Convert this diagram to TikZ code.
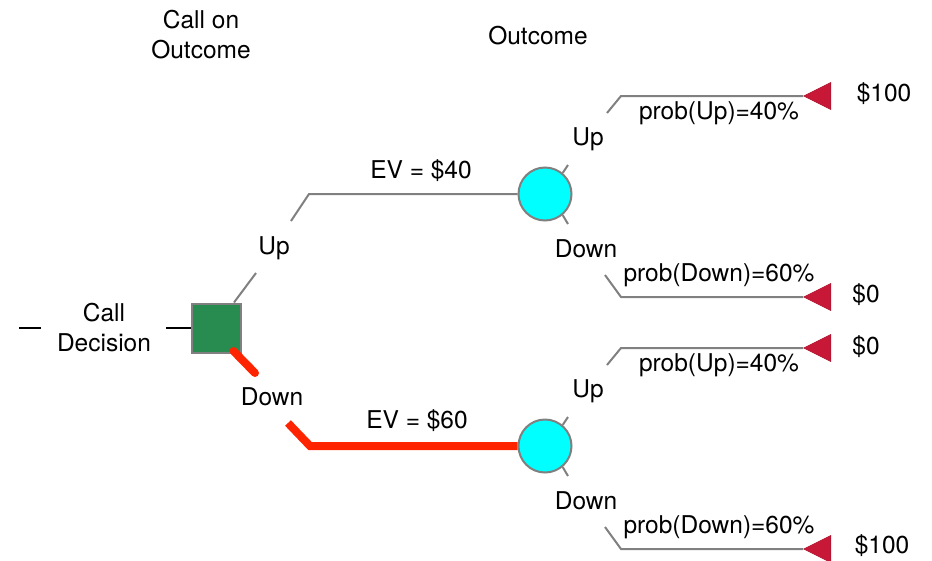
\documentclass[tikz,border=0pt]{standalone}
\usepackage{fontspec}
\setmainfont{TeX Gyre Heros}
\usetikzlibrary{shapes.geometric,calc,backgrounds}
\definecolor{branchgray}{RGB}{128,128,128}
\definecolor{bestred}{RGB}{255,36,0}
\definecolor{decgreen}{RGB}{40,140,80}
\definecolor{chancecyan}{RGB}{0,255,255}
\definecolor{payred}{RGB}{200,24,56}
\begin{document}
\begin{tikzpicture}[x=1pt,y=-1pt,
  txt/.style={font=\fontsize{24.5}{30}\selectfont, inner sep=0pt, align=center},
  branch/.style={draw=branchgray, line width=2pt},
  best/.style={draw=bestred, line width=8pt},
  lead/.style={draw=black, line width=2pt},
  decision/.style={rectangle, draw=branchgray, fill=decgreen, line width=2pt,
    minimum size=49pt, inner sep=0pt},
  chance/.style={circle, draw=branchgray, fill=chancecyan, line width=2pt,
    minimum size=53pt, inner sep=0pt},
  payoff/.style={isosceles triangle, isosceles triangle stretches,
    shape border rotate=180, fill=payred, draw=payred!85!black, line width=0.6pt,
    minimum width=27pt, minimum height=27pt, inner sep=0pt, anchor=apex},
]
\useasboundingbox (0,0) rectangle (932,560);

% column headers
\node[txt] (hdrDec) at (201,35) {Call on\\Outcome};
\node[txt] (hdrOut) at (538,36) {Outcome};

% root decision
\node[txt] (callLbl) at (104,328) {Call\\Decision};
\node[decision] (dec) at (216.5,328) {};

% chance nodes
\node[chance] (cU) at (545,194) {};
\node[chance] (cD) at (545,446) {};

% payoff terminals
\node[payoff] (tUU) at (803,96) {};
\node[payoff] (tUD) at (803,297) {};
\node[payoff] (tDU) at (803,348) {};
\node[payoff] (tDD) at (803,549) {};

% branch labels of the decision
\node[txt] (decUp)   at (274,248) {Up};
\node[txt] (decDown) at (272,397) {Down};
\node[txt] (ev40) at (421,171) {EV = \$40};
\node[txt] (ev60) at (417,421) {EV = \$60};

% branch labels of the chance nodes
\node[txt] (uUp)   at (588,139) {Up};
\node[txt] (uDown) at (586,249) {Down};
\node[txt] (uPu) at (719,113) {prob(Up)=40\%};
\node[txt] (uPd) at (719,275) {prob(Down)=60\%};
\node[txt] (dUp)   at (588,391) {Up};
\node[txt] (dDown) at (586,501) {Down};
\node[txt] (dPu) at (719,365) {prob(Up)=40\%};
\node[txt] (dPd) at (719,527) {prob(Down)=60\%};

% payoff values
\node[txt] (vUU) at (884,94)  {\$100};
\node[txt] (vUD) at (866,295) {\$0};
\node[txt] (vDU) at (866,347) {\$0};
\node[txt] (vDD) at (882,546) {\$100};

% bend points of the branches
\coordinate (in0) at (19,328);
\coordinate (in1) at (41,328);
\coordinate (decIn) at (166,328);
\coordinate (dU1) at (256,273);
\coordinate (dU2) at (291,221);
\coordinate (dU3) at (309,194);
\coordinate (dD1) at (255,373);
\coordinate (dD2) at (288,423);
\coordinate (dD3) at (310,446);

\coordinate (uU1) at (568,165);  \coordinate (uU2) at (607,113);  \coordinate (uU3) at (621,96);
\coordinate (uD1) at (568,224);  \coordinate (uD2) at (605,275);  \coordinate (uD3) at (621,297);
\coordinate (bU1) at (568,417);  \coordinate (bU2) at (607,365);  \coordinate (bU3) at (621,348);
\coordinate (bD1) at (568,476);  \coordinate (bD2) at (605,527);  \coordinate (bD3) at (621,549);

\begin{scope}[on background layer]
  \draw[lead] (in0) -- (in1);
  \draw[lead] (decIn) -- (dec.west);
  \draw[branch] (dU2) -- (dU3) -- (cU.west);
  \draw[best] (dD2) -- (dD3) -- (cD.west);
  \draw[branch] (cU.50) -- (uU1);
  \draw[branch] (cU.-50) -- (uD1);
  \draw[branch] (cD.50) -- (bU1);
  \draw[branch] (cD.-50) -- (bD1);
  \draw[branch] (uU2) -- (uU3) -- (tUU.apex);
  \draw[branch] (uD2) -- (uD3) -- (tUD.apex);
  \draw[branch] (bU2) -- (bU3) -- (tDU.apex);
  \draw[branch] (bD2) -- (bD3) -- (tDD.apex);
\end{scope}

% stubs leaving the decision square
\draw[branch] ($(dec.north east)+(-8,0)$) -- (dU1);
\draw[best, line cap=round] ($(dec.south east)+(-8.5,-2.5)$) -- (dD1);
\end{tikzpicture}
\end{document}
